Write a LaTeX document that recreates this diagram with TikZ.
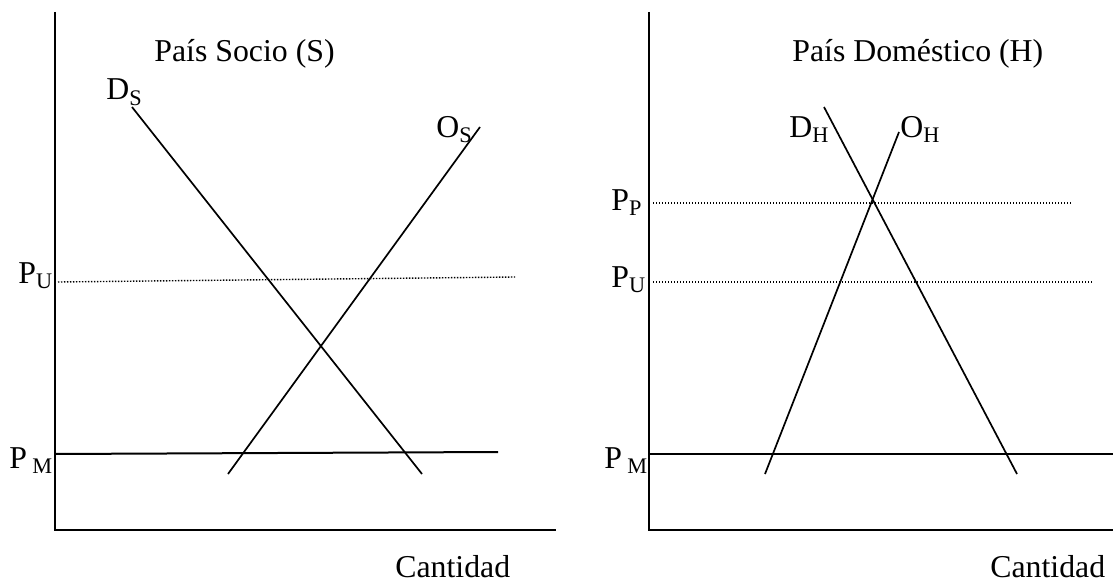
\documentclass[tikz,border=0pt]{standalone}
\usepackage{fontspec}
\setmainfont{Liberation Serif}
\usetikzlibrary{positioning}

\begin{document}
\begin{tikzpicture}[
    x=0.5pt, y=-0.5pt,
    every node/.style={font=\fontsize{15.9}{19}\selectfont, inner sep=0pt},
    lbl/.style={anchor=base west},
    axis/.style={draw=black, line width=1.4pt},
    curve/.style={draw=black, line width=0.85pt},
    pline/.style={draw=black, line width=1pt},
    dotline/.style={draw=black, line width=0.7pt, dash pattern=on 0.7pt off 0.8pt}
]
\useasboundingbox (0,0) rectangle (1113,583);

% -------- Panel 1: socio (S) --------
\coordinate (sTop)  at (55,12);
\coordinate (sOrig) at (55,530);
\coordinate (sEnd)  at (556,530);
\coordinate (dsTop) at (132,107);
\coordinate (dsBot) at (422,474);
\coordinate (osTop) at (480,127);
\coordinate (osBot) at (228,474);
\coordinate (puSL)  at (58,282);
\coordinate (puSR)  at (515,277);
\coordinate (pmSL)  at (55,454);
\coordinate (pmSR)  at (498,452);

\draw[axis] (sTop) -- (sOrig) -- (sEnd);
\draw[curve] (dsTop) -- (dsBot);
\draw[curve] (osTop) -- (osBot);
\draw[dotline] (puSL) -- (puSR);
\draw[pline] (pmSL) -- (pmSR);

\node[lbl] (titleS) at (154,62)  {País Socio (S)};
\node[lbl] (dS)     at (106,100) {D\textsubscript{S}};
\node[lbl] (oS)     at (436,137) {O\textsubscript{S}};
\node[lbl] (puS)    at (18,283)  {P\textsubscript{U}};
\node[lbl] (pmS)    at (9,468)   {P\,\textsubscript{M}};
\node[lbl] (qS)     at (395,577) {Cantidad};

% -------- Panel 2: domestico (H) --------
\coordinate (hTop)  at (649,12);
\coordinate (hOrig) at (649,530);
\coordinate (hEnd)  at (1113,530);
\coordinate (dhTop) at (824,107);
\coordinate (dhBot) at (1017,474);
\coordinate (ohTop) at (899,132);
\coordinate (ohBot) at (765,474);
\coordinate (ppHL)  at (653,203);
\coordinate (ppHR)  at (1071,203);
\coordinate (puHL)  at (653,282);
\coordinate (puHR)  at (1092,282);
\coordinate (pmHL)  at (649,454);
\coordinate (pmHR)  at (1113,454);

\draw[axis] (hTop) -- (hOrig) -- (hEnd);
\draw[curve] (dhTop) -- (dhBot);
\draw[curve] (ohTop) -- (ohBot);
\draw[dotline] (ppHL) -- (ppHR);
\draw[dotline] (puHL) -- (puHR);
\draw[pline] (pmHL) -- (pmHR);

\node[lbl] (titleH) at (792,62)  {País Doméstico (H)};
\node[lbl] (dH)     at (789,137) {D\textsubscript{H}};
\node[lbl] (oH)     at (900,137) {O\textsubscript{H}};
\node[lbl] (ppH)    at (611,210) {P\textsubscript{P}};
\node[lbl] (puH)    at (611,287) {P\textsubscript{U}};
\node[lbl] (pmH)    at (604,468) {P\,\textsubscript{M}};
\node[lbl] (qH)     at (990,577) {Cantidad};

\end{tikzpicture}
\end{document}
